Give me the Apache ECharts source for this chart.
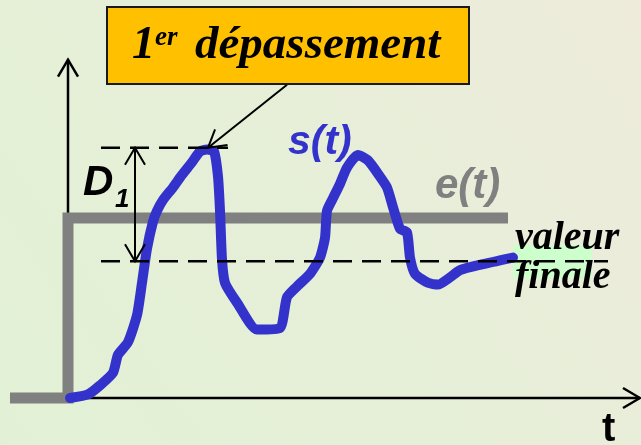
<!DOCTYPE html>
<html>
<head>
<meta charset="utf-8">
<script src="https://cdn.jsdelivr.net/npm/echarts@6/dist/echarts.min.js"></script>
<style>
  html, body { margin: 0; padding: 0; }
  #J-chart { width: 641px; height: 445px; }
</style>
</head>
<body>
<div id="J-chart"></div>
<script>
// time units: 1 = 10px, value units: 1 = consigne e(t)
const stepT = [-5.8, 0, 0, 44.0];
const stepS = [0, 0, 1, 1];

const respT = [0.2, 2.0, 3.2, 4.5, 5.0, 6.0, 6.9, 7.4, 7.9, 8.5, 8.9, 9.5, 10.5, 11.4, 12.4, 13.2, 13.9, 14.6,
    15.0, 15.2, 15.4, 15.7, 16.9, 18.9, 21.2, 21.9, 22.9, 24.2, 25.2, 25.7, 25.9, 26.5, 27.2, 27.9, 29.0, 30.0,
    31.2, 31.9, 32.5, 33.2, 33.9, 34.2, 34.7, 36.0, 37.0, 38.2, 39.2, 41.2, 44.5];
const respS = [0.00, 0.02, 0.07, 0.14, 0.24, 0.31, 0.46, 0.64, 0.83, 0.98, 1.04, 1.10, 1.17, 1.24, 1.31, 1.37, 1.38, 1.37,
    1.23, 1.04, 0.77, 0.64, 0.53, 0.38, 0.39, 0.56, 0.62, 0.69, 0.78, 0.89, 1.04, 1.11, 1.19, 1.28, 1.35, 1.32,
    1.23, 1.17, 1.06, 0.94, 0.92, 0.78, 0.69, 0.64, 0.63, 0.67, 0.71, 0.74, 0.78];

const peakLevel = 1.39;
const finalLevel = 0.76;
const peakLineT = [3.3, 16.0];
const finalLineT = [3.3, 54.0];

// [t0, s0, t1, s1, head at start, head at end]
const axisArrows = [
    [0, 0, 0, 1.88, 0, 1],
    [0, 0, 57.2, 0, 0, 1]
];
const noteArrows = [
    [6.7, peakLevel, 6.7, finalLevel, 1, 1],
    [21.9, 1.74, 14.0, 1.39, 0, 1]
];

const pairs = (xs, ys) => xs.map((x, i) => [x, ys[i]]);

function renderArrow(width) {
    return function(params, api) {
        const a = api.coord([api.value(0), api.value(1)]);
        const b = api.coord([api.value(2), api.value(3)]);
        const style = { stroke: '#000', lineWidth: width, fill: 'none' };
        const head = (tip, from) => {
            const dx = tip[0] - from[0], dy = tip[1] - from[1];
            const len = Math.hypot(dx, dy);
            const ux = dx / len, uy = dy / len;
            const L = 17, W = 10;
            return {
                type: 'polyline',
                shape: { points: [
                    [tip[0] - ux * L - uy * W, tip[1] - uy * L + ux * W],
                    [tip[0], tip[1]],
                    [tip[0] - ux * L + uy * W, tip[1] - uy * L - ux * W]
                ] },
                style: style
            };
        };
        const children = [{ type: 'line', shape: { x1: a[0], y1: a[1], x2: b[0], y2: b[1] }, style: style }];
        if (api.value(4)) children.push(head(a, b));
        if (api.value(5)) children.push(head(b, a));
        return { type: 'group', children: children };
    };
}

const serif = '"Liberation Serif", "Times New Roman", serif';
const sans = '"Liberation Sans", Arial, sans-serif';

function label(x, y, text, size, family, color, style) {
    return {
        type: 'text', x: x, y: y, z: 20,
        style: {
            text: text,
            font: (style || 'italic bold') + ' ' + size + 'px ' + family,
            fill: color || '#000',
            verticalAlign: 'middle'
        }
    };
}

const option = {
    backgroundColor: {
        type: 'linear', x: 0, y: 1, x2: 1, y2: 0,
        colorStops: [
            { offset: 0, color: '#E2F1D5' },
            { offset: 0.5, color: '#E6EFD8' },
            { offset: 1, color: '#EEEBDB' }
        ]
    },
    animation: false,
    grid: { left: 0, right: 0, top: 0, bottom: 0 },
    xAxis: { type: 'value', min: -6.8, max: 57.3, show: false },
    yAxis: { type: 'value', min: -47 / 180, max: 398 / 180, show: false },
    graphic: [
        {
            type: 'rect', z: 1,
            shape: { x: 513, y: 245, width: 79, height: 33 },
            style: { fill: '#CCFFCC' }
        },
        {
            type: 'rect', z: 10,
            shape: { x: 107, y: 7, width: 362, height: 77 },
            style: { fill: '#FFC000', stroke: '#1A1A1A', lineWidth: 2 }
        },
        label(132, 46, '1', 46, serif),
        label(155, 38, 'er', 27, serif),
        label(195, 46, 'dépassement', 47, serif),
        label(83, 183, 'D', 42, sans),
        label(115, 200, '1', 26, sans),
        label(288, 143, 's(t)', 41, sans, '#3333CC'),
        label(435, 186, 'e(t)', 42, sans, '#808080'),
        label(515, 239, 'valeur', 40, serif),
        label(515, 278, 'finale', 40, serif),
        label(602, 430, 't', 40, sans, '#000', 'bold')
    ],
    series: [
        {
            type: 'custom',
            z: 1,
            clip: false,
            renderItem: renderArrow(2.5),
            data: axisArrows
        },
        {
            type: 'line',
            z: 2,
            data: pairs(stepT, stepS),
            symbol: 'none',
            lineStyle: { color: '#808080', width: 11, cap: 'butt', join: 'miter' }
        },
        {
            type: 'line',
            z: 3,
            data: pairs(respT, respS),
            symbol: 'none',
            smooth: 0.2,
            lineStyle: { color: '#3333CC', width: 10, cap: 'round', join: 'round' }
        },
        {
            type: 'line',
            z: 4,
            data: peakLineT.map(t => [t, peakLevel]),
            symbol: 'none',
            lineStyle: { color: '#000', width: 2.5, type: [19, 10] }
        },
        {
            type: 'line',
            z: 4,
            data: finalLineT.map(t => [t, finalLevel]),
            symbol: 'none',
            lineStyle: { color: '#000', width: 2.5, type: [19, 10] }
        },
        {
            type: 'custom',
            z: 5,
            clip: false,
            renderItem: renderArrow(2),
            data: noteArrows
        }
    ]
};

const chart = echarts.init(document.getElementById('J-chart'));
chart.setOption(option);
</script>
</body>
</html>
